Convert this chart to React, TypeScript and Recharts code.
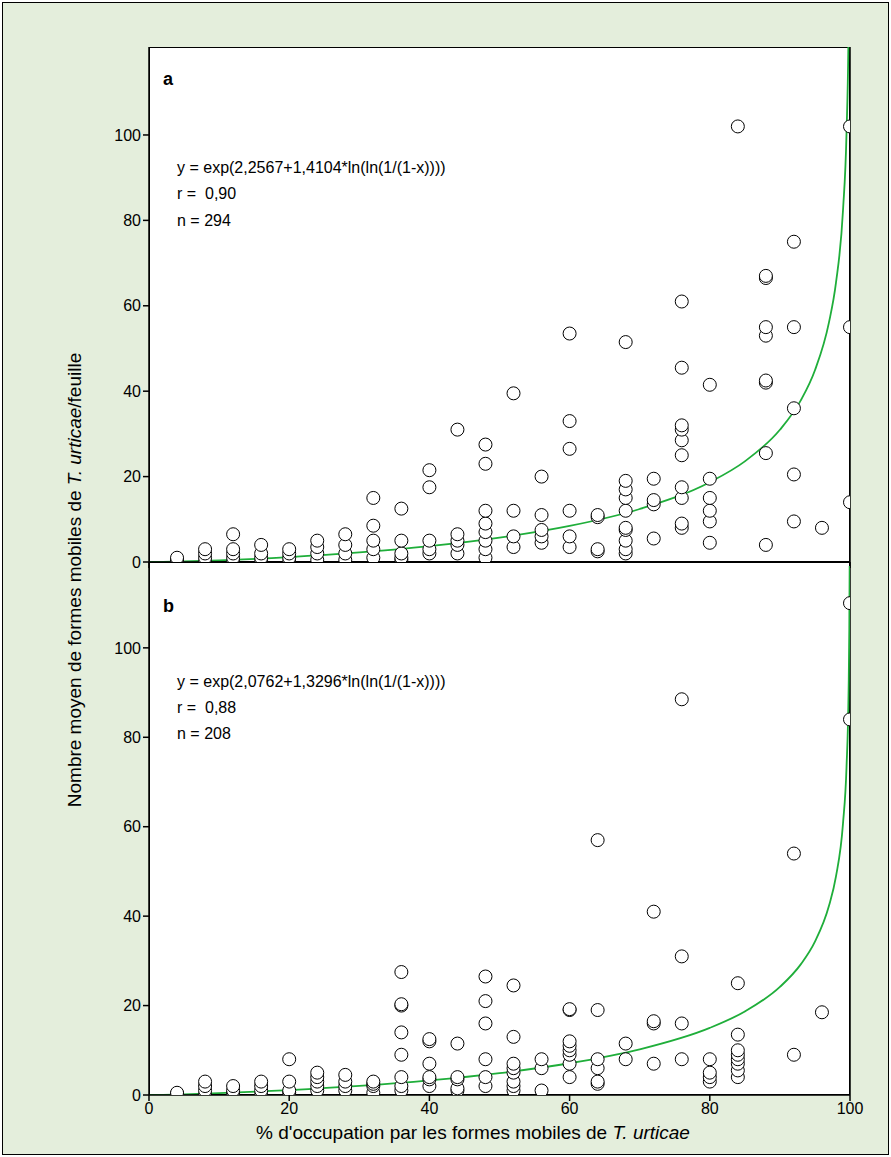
import { ComposedChart, Scatter, Line, XAxis, YAxis, ReferenceLine } from 'recharts';

// panel a observations: [x %, value]
const xsA = [4, 8, 12, 16, 20, 24, 28, 32, 36, 40, 44, 48, 52, 56, 60, 64, 68, 72, 76, 80, 84, 88, 92, 96, 100];
const valsA = [
  [0, 0.5, 1], [0, 1, 2, 3], [0, 1, 2, 3, 6.5], [0, 1, 2, 4], [0, 1, 2, 3],
  [0.5, 2, 3.5, 5], [0.5, 2, 4, 6.5], [1, 3, 5, 8.5, 15], [0.5, 1, 2, 5, 12.5],
  [2, 3, 5, 17.5, 21.5], [2, 4, 5, 6.5, 31], [1, 3, 5, 7, 9, 12, 23, 27.5],
  [3.5, 6, 12, 39.5], [4.5, 6, 7.5, 11, 20], [3.5, 6, 12, 26.5, 33, 53.5],
  [2.5, 3, 10.5, 11], [2, 3, 5, 7.5, 8, 12, 15, 17, 19, 51.5], [5.5, 13.5, 14.5, 19.5],
  [8, 9, 15, 17.5, 25, 28.5, 31, 32, 45.5, 61], [4.5, 9.5, 12, 15, 19.5, 41.5], [102],
  [4, 25.5, 42, 42.5, 53, 55, 66.5, 67], [9.5, 20.5, 36, 55, 75], [8], [14, 55, 102],
];
const xsB = [4, 8, 12, 16, 20, 24, 28, 32, 36, 40, 44, 48, 52, 56, 60, 64, 68, 72, 76, 80, 84, 92, 96, 100];
const valsB = [
  [0, 0.3, 0.5], [0, 1, 2, 3], [0, 0.5, 1, 2], [0, 1, 2, 3], [0.5, 1, 3, 8],
  [1, 2, 3, 4, 5], [1, 2, 3, 4.5], [0.5, 2, 2.5, 3], [1, 2, 4, 9, 14, 20, 20.3, 27.5],
  [2, 3.5, 4, 7, 12, 12.5], [1, 1.5, 3.5, 4, 11.5], [2, 4, 8, 16, 21, 26.5],
  [1, 2, 3, 5, 6, 7, 13, 24.5], [1, 6, 8], [4, 7, 9, 10, 11, 12, 19, 19.2],
  [2.5, 3, 6, 8, 19, 57], [8, 11.5], [7, 16, 16.5, 41], [8, 16, 31, 88.5], [3, 4, 5, 8],
  [4, 5.5, 7, 8, 9, 10, 13.5, 25], [9, 54], [18.5], [84, 110],
];

// fitted curves (values of the printed equations)
const curveX = [0, 2, 5, 10, 20, 30, 40, 50, 60, 70, 80, 85, 90, 93, 95, 97, 98, 99, 99.5, 99.8, 99.9, 99.95];
const curveA = [0, 0.039, 0.145, 0.4, 1.15, 2.23, 3.7, 5.7, 8.44, 12.41, 18.69, 23.57, 30.97, 37.9, 44.9, 56.1, 65.4, 82.3, 100.3, 125.7, 145.8, 160];
const curveB = [0, 0.044, 0.154, 0.4, 1.09, 2.02, 3.26, 4.9, 7.1, 10.21, 15.01, 18.68, 24.17, 29.27, 34.3, 42.3, 48.9, 60.7, 73.2, 90.5, 104.2, 118.3];

const yTicks = [0, 20, 40, 60, 80, 100];
const xTicks = [0, 20, 40, 60, 80, 100];

const pts = (xs: number[], vals: number[][]) =>
  xs.flatMap((x, i) => vals[i].map((y) => ({ x, y })));
const curve = (ys: number[]) => curveX.map((x, i) => ({ x, y: ys[i] }));

const FONT = '"Liberation Sans", Arial, sans-serif';
const GREEN = '#1fae3a';

const Dot = (p: any) => <circle cx={p.cx} cy={p.cy} r={6.5} fill="#fff" stroke="#000" strokeWidth={1} />;

function Panel({ top, height, plotH, yMax, data, line, showX }: any) {
  return (
    <div style={{ position: 'absolute', left: 0, top, width: 891, height }}>
      <div style={{ position: 'absolute', left: 149, top: 0, width: 701, height: plotH, background: '#fff', boxSizing: 'border-box', border: '1px solid #000' }} />
      <ComposedChart width={891} height={height} margin={{ top: 0, left: 89, right: 41, bottom: height - plotH - 30 }} style={{ position: 'absolute', left: 0, top: 0 }}>
        <XAxis type="number" dataKey="x" domain={[0, 100]} ticks={xTicks} height={30} stroke="#000" strokeWidth={1.5}
          tickSize={6} tickFormatter={showX ? (v: number) => String(v) : () => ''}
          tick={{ fill: '#000', fontSize: 16, fontFamily: FONT }} allowDataOverflow />
        <YAxis type="number" dataKey="y" domain={[0, yMax]} ticks={yTicks} width={60} stroke="#000" strokeWidth={1.5}
          tickSize={6} tick={{ fill: '#000', fontSize: 16, fontFamily: FONT }} allowDataOverflow />
        <ReferenceLine x={100} stroke="#000" strokeWidth={1.5} />
        <Line data={line} dataKey="y" type="monotone" stroke={GREEN} strokeWidth={1.8} dot={false} isAnimationActive={false} />
        <Scatter data={data} dataKey="y" shape={Dot} isAnimationActive={false} />
      </ComposedChart>
    </div>
  );
}

const txt = (x: number, y: number, s: any, extra: any = {}) => (
  <div style={{ position: 'absolute', left: x, top: y, fontFamily: FONT, fontSize: 16, color: '#000', whiteSpace: 'pre', ...extra }}>{s}</div>
);

export default function App() {
  return (
    <div style={{ position: 'fixed', left: 0, top: 0, width: 891, height: 1157, background: '#fff' }}>
      <div style={{ position: 'absolute', left: 2, top: 2, width: 885, height: 1151, background: '#e4eedc', border: '1px solid #000' }} />
      <Panel top={47} height={545} plotH={515} yMax={120.6} data={pts(xsA, valsA)} line={curve(curveA)} showX={false} />
      <Panel top={562} height={595} plotH={533} yMax={119.2} data={pts(xsB, valsB)} line={curve(curveB)} showX={true} />
      {txt(163, 69, 'a', { fontWeight: 'bold', fontSize: 18 })}
      {txt(177, 159, 'y = exp(2,2567+1,4104*ln(ln(1/(1-x))))')}
      {txt(177, 185, 'r =  0,90')}
      {txt(177, 212, 'n = 294')}
      {txt(163, 596, 'b', { fontWeight: 'bold', fontSize: 18 })}
      {txt(177, 673, 'y = exp(2,0762+1,3296*ln(ln(1/(1-x))))')}
      {txt(177, 699, 'r =  0,88')}
      {txt(177, 725, 'n = 208')}
      <div style={{ position: 'absolute', left: 75, top: 580, transform: 'translate(-50%,-50%) rotate(-90deg)', fontFamily: FONT, fontSize: 19, whiteSpace: 'nowrap' }}>
        Nombre moyen de formes mobiles de <i>T. urticae</i>/feuille
      </div>
      <div style={{ position: 'absolute', left: 473, top: 1133, transform: 'translate(-50%,-50%)', fontFamily: FONT, fontSize: 19, whiteSpace: 'nowrap' }}>
        % d'occupation par les formes mobiles de <i>T. urticae</i>
      </div>
    </div>
  );
}
